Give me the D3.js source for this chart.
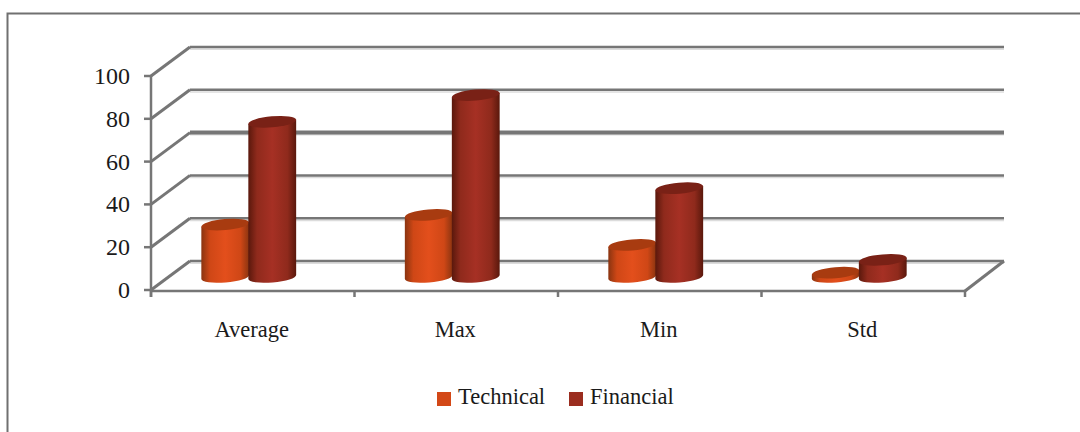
<!DOCTYPE html>
<html><head><meta charset="utf-8">
<script src="https://cdn.jsdelivr.net/npm/d3@7/dist/d3.min.js"></script>
<style>html,body{margin:0;padding:0;background:#fff;overflow:hidden}svg{display:block}text{font-family:"Liberation Serif",serif;fill:#1a1a1a}</style>
</head><body><svg id="c" width="1080" height="432"></svg>
<script>
const categories = ["Average","Max","Min","Std"];
const seriesNames = ["Technical","Financial"];
const technical = [24.5,29,15,2];
const financial = [72.5,85,41.5,8];
const yTicks = [0,20,40,60,80,100];
const colors = {
  Technical:{edge:"#8a3410",near:"#cf4716",mid:"#e34f1c",top:"#a83b10",key:"#d34817"},
  Financial:{edge:"#5a180c",near:"#8f2a1c",mid:"#a63024",top:"#792116",key:"#9b2d1f"}
};
const svg = d3.select("#c");
const grey = "#767676", shade = "#dcdcdc";
const dx = 39, dy = -29;
const x = d3.scaleBand().domain(categories).range([151,965]);
const y = d3.scaleLinear().domain([0,100]).range([290,76]);
const sub = d3.scaleBand().domain(seriesNames).range([-47,47]);

// frame
svg.append("path").attr("d","M7.5,432V13.5H1080").attr("fill","none").attr("stroke","#707070").attr("stroke-width",2);

// gradients
const defs = svg.append("defs");
seriesNames.forEach(n=>{
  const g = defs.append("linearGradient").attr("id","g"+n);
  [[0,colors[n].edge],[.18,colors[n].near],[.5,colors[n].mid],[.82,colors[n].near],[1,colors[n].edge]].forEach(s=>
    g.append("stop").attr("offset",s[0]).attr("stop-color",s[1]));
});

// back wall gridlines and side wall
const [x0,x1] = x.range();
yTicks.forEach(t=>{
  const yb = y(t)+dy;
  const w = t===60 ? 4 : 2.5;
  svg.append("line").attr("x1",x0+dx).attr("x2",x1+dx).attr("y1",yb+2.2).attr("y2",yb+2.2).attr("stroke",shade).attr("stroke-width",1.5);
  svg.append("line").attr("x1",x0+dx).attr("x2",x1+dx).attr("y1",yb).attr("y2",yb).attr("stroke",grey).attr("stroke-width",w);
  svg.append("line").attr("x1",x0).attr("x2",x0+dx).attr("y1",y(t)).attr("y2",yb).attr("stroke",grey).attr("stroke-width",3);
  svg.append("line").attr("x1",x0-7).attr("x2",x0).attr("y1",y(t)).attr("y2",y(t)).attr("stroke",grey).attr("stroke-width",2.5);
  svg.append("text").attr("x",x0-21).attr("y",y(t)+8).attr("text-anchor","end").attr("font-size",24).text(t);
});
// right floor edge, front axis, y axis
svg.append("line").attr("x1",x1).attr("x2",x1+dx).attr("y1",y(0)+1).attr("y2",y(0)+dy).attr("stroke",grey).attr("stroke-width",3);
svg.append("line").attr("x1",x0).attr("x2",x1).attr("y1",y(0)+1).attr("y2",y(0)+1).attr("stroke",grey).attr("stroke-width",2.5);
svg.append("line").attr("x1",x0).attr("x2",x0).attr("y1",y(100)).attr("y2",y(0)+7).attr("stroke",grey).attr("stroke-width",2.5);
d3.range(5).forEach(i=>{
  const px = x0 + i*x.step();
  svg.append("line").attr("x1",px).attr("x2",px).attr("y1",y(0)).attr("y2",y(0)+7).attr("stroke",grey).attr("stroke-width",2.5);
});

// cylinders
const rx = 24, ry = 5.5, rot = -5, th = rot*Math.PI/180;
const ex = rx*Math.cos(th), ey = rx*Math.sin(th);
const baseShift = -13;
function cyl(cx,yTop,yBase,n){
  const g = svg.append("g");
  g.append("path").attr("fill",`url(#g${n})`).attr("d",
    `M${cx-ex},${yTop-ey}L${cx-ex},${yBase-ey}A${rx},${ry} ${rot} 0 0 ${cx+ex},${yBase+ey}L${cx+ex},${yTop+ey}Z`);
  g.append("ellipse").attr("cx",cx).attr("cy",yTop).attr("rx",rx).attr("ry",ry)
    .attr("transform",`rotate(${rot} ${cx} ${yTop})`).attr("fill",colors[n].top);
}
categories.forEach((c,i)=>{
  const cx = x(c)+x.bandwidth()/2-4;
  [["Technical",technical[i]],["Financial",financial[i]]].forEach(([n,v])=>{
    cyl(cx+sub(n)+sub.bandwidth()/2, y(v)+baseShift, y(0)+baseShift, n);
  });
  svg.append("text").attr("x",x(c)+x.bandwidth()/2-1).attr("y",337).attr("text-anchor","middle").attr("font-size",22.5).text(c);
});

// legend
const legendX = d3.scaleOrdinal().domain(seriesNames).range([437,569]);
seriesNames.forEach(n=>{
  svg.append("rect").attr("x",legendX(n)).attr("y",392).attr("width",14).attr("height",14).attr("fill",colors[n].key);
  svg.append("text").attr("x",legendX(n)+21).attr("y",404).attr("font-size",22.5).text(n);
});
</script></body></html>
